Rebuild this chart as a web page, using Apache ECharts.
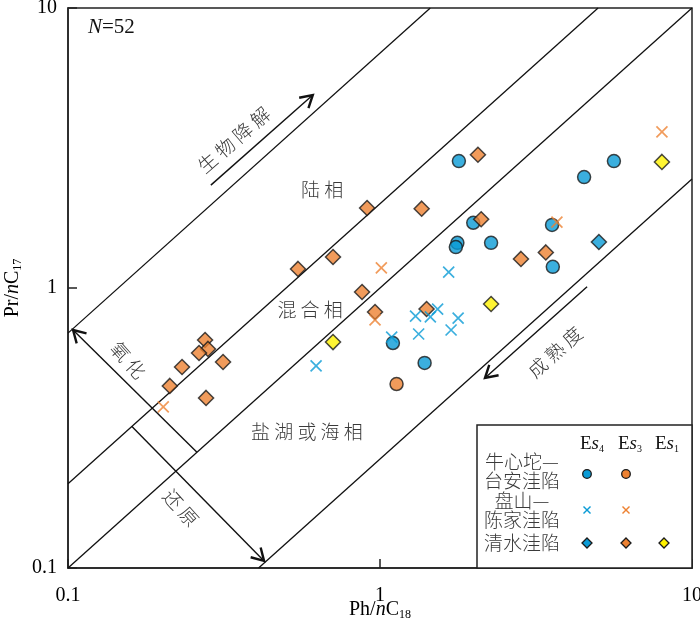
<!DOCTYPE html>
<html><head><meta charset="utf-8">
<script src="https://cdn.jsdelivr.net/npm/echarts@6/dist/echarts.min.js"></script>
<style>html,body{margin:0;padding:0;background:#fff}#c{width:700px;height:631px}</style>
</head><body><div id="c"></div>
<script>
// ---- axis ticks ----
const xTickLabels = ['0.1', '1', '10'];
const yTickLabels = ['0.1', '1', '10'];
const axisMin = 0.1, axisMax = 10;

// ---- boundary lines Pr/nC17 = k * Ph/nC18 ----
const lineRatios = [6.9, 2, 1, 0.245];

// ---- data [Ph/nC18, Pr/nC17] ----
const nxtEs4 = [[1.79,2.84],[1.99,1.71],[1.77,1.45],[1.75,1.40],[2.27,1.45],[4.51,2.49],[5.62,2.84],[3.56,1.68],[3.58,1.19],[1.10,0.636],[1.39,0.540]];
const nxtEs3 = [[1.13,0.454]];
const pscEs4 = [[1.66,1.14],[1.53,0.841],[1.30,0.794],[1.45,0.788],[1.78,0.781],[1.33,0.685],[1.69,0.708],[1.09,0.668],[0.624,0.527]];
const pscEs3 = [[0.202,0.376],[1.01,1.18],[0.964,0.769],[3.69,1.72],[8.01,3.61]];
const qsEs4 = [[5.03,1.46]];
const qsEs3 = [[0.909,1.93],[0.707,1.29],[0.546,1.17],[0.876,0.968],[0.964,0.821],[0.275,0.652],[0.281,0.606],[0.263,0.586],[0.232,0.522],[0.314,0.544],[0.212,0.447],[0.277,0.405],[2.06,2.99],[1.36,1.92],[2.11,1.76],[2.83,1.27],[1.41,0.841],[3.40,1.34]];
const qsEs1 = [[0.707,0.641],[2.27,0.877],[8.01,2.82]];

// ---- annotations (data space) ----
const arrows = [
  {from:[0.287,2.33], to:[0.609,4.89]},
  {from:[0.259,0.259], to:[0.1038,0.708]},
  {from:[0.160,0.321], to:[0.425,0.106]},
  {from:[4.61,1.01], to:[2.17,0.477]}
];
const regionLabels = [
  {text:'陆 相', at:[0.652,2.24], rot:0},
  {text:'混 合 相', at:[0.597,0.835], rot:0},
  {text:'盐 湖 或 海 相', at:[0.583,0.306], rot:0},
  {text:'生 物 降 解', at:[0.340,3.38], rot:41},
  {text:'氧 化', at:[0.156,0.553], rot:-48},
  {text:'还 原', at:[0.230,0.164], rot:-48},
  {text:'成 熟 度', at:[3.64,0.591], rot:42}
];

const BLUE = '#0a9bd6', ORANGE = '#ee8232', YELLOW = '#fff200', EDGE = '#1a1a1a';
const CROSS = 'path://M0,0L10,10M10,0L0,10';
const serif = 'Liberation Serif';
const cjk = '"Noto Sans CJK SC"';

const chart = echarts.init(document.getElementById('c'));

const lineSeries = lineRatios.map(k => {
  const x0 = Math.max(axisMin, axisMin / k), x1 = Math.min(axisMax, axisMax / k);
  return {type:'line', data:[[x0, k*x0],[x1, k*x1]], symbol:'none', silent:true, z:1,
    lineStyle:{color:'#111', width:1.3}, animation:false};
});

function scat(data, symbol, color, size, z) {
  const cross = symbol === CROSS;
  return {type:'scatter', data, symbol, symbolSize:size, z, animation:false,
    itemStyle: cross ? {color:'rgba(0,0,0,0)', borderColor:color, borderWidth:1.7}
                     : {color, borderColor:EDGE, borderWidth:1.5}};
}

const subRich = {
  a:{fontFamily:serif, fontSize:20, color:'#000', lineHeight:22},
  i:{fontFamily:serif, fontSize:20, fontStyle:'italic', color:'#000', lineHeight:22},
  s:{fontFamily:serif, fontSize:12, color:'#000', lineHeight:12, verticalAlign:'bottom'}
};

chart.setOption({
  animation:false,
  grid:{left:68, right:8, top:8, bottom:63, show:true, borderColor:'#222', borderWidth:1.5,
    containLabel:false, outerBoundsMode:'none'},
  xAxis:{type:'log', logBase:10, min:axisMin, max:axisMax,
    name:'{a|Ph/}{i|n}{a|C}{s|18}', nameLocation:'middle', nameGap:31, nameMoveOverlap:false,
    nameTextStyle:{rich:subRich},
    axisLine:{lineStyle:{color:'#222', width:1.5}},
    axisTick:{inside:true, length:9, lineStyle:{color:'#222', width:1.5}},
    splitLine:{show:false}, minorTick:{show:false},
    axisLabel:{fontFamily:serif, fontSize:20, color:'#000', margin:18,
      formatter:(v, i) => xTickLabels[i]}},
  yAxis:{type:'log', logBase:10, min:axisMin, max:axisMax,
    name:'{a|Pr/}{i|n}{a|C}{s|17}', nameLocation:'middle', nameGap:44, nameRotate:90, nameMoveOverlap:false,
    nameTextStyle:{rich:subRich},
    axisLine:{lineStyle:{color:'#222', width:1.5}},
    axisTick:{inside:true, length:9, lineStyle:{color:'#222', width:1.5}},
    splitLine:{show:false}, minorTick:{show:false},
    axisLabel:{fontFamily:serif, fontSize:20, color:'#000', margin:11,
      formatter:(v, i) => yTickLabels[i]}},
  series:[
    ...lineSeries,
    scat(nxtEs4, 'circle', BLUE, 13, 3),
    scat(nxtEs3, 'circle', ORANGE, 13, 3),
    scat(qsEs4, 'diamond', BLUE, 15, 4),
    scat(qsEs3, 'diamond', ORANGE, 15, 4),
    scat(qsEs1, 'diamond', YELLOW, 15, 4),
    scat(pscEs4, CROSS, BLUE, 11, 5),
    scat(pscEs3, CROSS, ORANGE, 11, 5)
  ]
});

// ---- graphic overlay ----
const px = p => chart.convertToPixel({gridIndex:0}, p);
const g = [];
arrows.forEach(a => {
  const p0 = px(a.from), p1 = px(a.to);
  const dx = p1[0]-p0[0], dy = p1[1]-p0[1], L = Math.hypot(dx, dy);
  const ux = dx/L, uy = dy/L, vx = -uy, vy = ux;
  const back = 12, wide = 7;
  g.push({type:'line', silent:true, z:10, shape:{x1:p0[0], y1:p0[1], x2:p1[0], y2:p1[1]}, style:{stroke:'#111', lineWidth:1.4}});
  g.push({type:'polyline', silent:true, z:10, shape:{points:[
    [p1[0]-back*ux+wide*vx, p1[1]-back*uy+wide*vy], [p1[0], p1[1]],
    [p1[0]-back*ux-wide*vx, p1[1]-back*uy-wide*vy]]},
    style:{stroke:'#111', lineWidth:2.4, fill:null, lineJoin:'miter'}});
});
regionLabels.forEach(r => {
  const p = px(r.at);
  g.push({type:'text', silent:true, z:10, x:p[0], y:p[1], rotation:r.rot*Math.PI/180,
    style:{text:r.text, fontFamily:cjk, fontSize:19, fontWeight:300, fill:'#3a3a3a', align:'center', verticalAlign:'middle'}});
});
// N=52
g.push({type:'text', silent:true, z:10, x:88, y:27,
  style:{text:'{i|N}{a|=52}', verticalAlign:'middle', rich:{
    i:{fontFamily:serif, fontSize:21, fontStyle:'italic', fill:'#111'},
    a:{fontFamily:serif, fontSize:21, fill:'#111'}}}});

// ---- legend box ----
const legendHeaders = [['4', 592], ['3', 630], ['1', 667]];
const legendRows = [
  {lines:['牛心坨—','台安洼陷'], ys:[462,481], symY:474, marks:[['circle',BLUE],['circle',ORANGE]]},
  {lines:['盘山—','陈家洼陷'], ys:[501,520], symY:510, marks:[['cross',BLUE],['cross',ORANGE]]},
  {lines:['清水洼陷'], ys:[543], symY:543, marks:[['diamond',BLUE],['diamond',ORANGE],['diamond',YELLOW]]}
];
const markX = [587, 626, 664];
g.push({type:'rect', silent:true, z:8, shape:{x:477, y:425, width:215, height:143},
  style:{fill:'#fff', stroke:'#222', lineWidth:1.5}});
legendHeaders.forEach(h => {
  g.push({type:'text', silent:true, z:11, x:h[1], y:444, style:{text:'{a|E}{i|s}{s|' + h[0] + '}', align:'center', verticalAlign:'middle',
    rich:{a:{fontFamily:serif, fontSize:19, fill:'#111', lineHeight:21},
          i:{fontFamily:serif, fontSize:19, fontStyle:'italic', fill:'#111', lineHeight:21},
          s:{fontFamily:serif, fontSize:10, fill:'#111', lineHeight:10, verticalAlign:'bottom'}}}});
});
legendRows.forEach(row => {
  row.lines.forEach((t, i) => {
    g.push({type:'text', silent:true, z:11, x:522, y:row.ys[i],
      style:{text:t, fontFamily:cjk, fontSize:19, fontWeight:300, fill:'#3a3a3a', align:'center', verticalAlign:'middle'}});
  });
  row.marks.forEach((m, j) => {
    const cx = markX[j], cy = row.symY;
    if (m[0] === 'circle') g.push({type:'circle', silent:true, z:11, shape:{cx, cy, r:4.3}, style:{fill:m[1], stroke:EDGE, lineWidth:1.3}});
    if (m[0] === 'diamond') g.push({type:'polygon', silent:true, z:11, shape:{points:[[cx,cy-5],[cx+5,cy],[cx,cy+5],[cx-5,cy]]}, style:{fill:m[1], stroke:EDGE, lineWidth:1.3}});
    if (m[0] === 'cross') {
      g.push({type:'line', silent:true, z:11, shape:{x1:cx-3.5, y1:cy-3.5, x2:cx+3.5, y2:cy+3.5}, style:{stroke:m[1], lineWidth:1.4}});
      g.push({type:'line', silent:true, z:11, shape:{x1:cx+3.5, y1:cy-3.5, x2:cx-3.5, y2:cy+3.5}, style:{stroke:m[1], lineWidth:1.4}});
    }
  });
});
chart.setOption({graphic:g});
</script></body></html>
